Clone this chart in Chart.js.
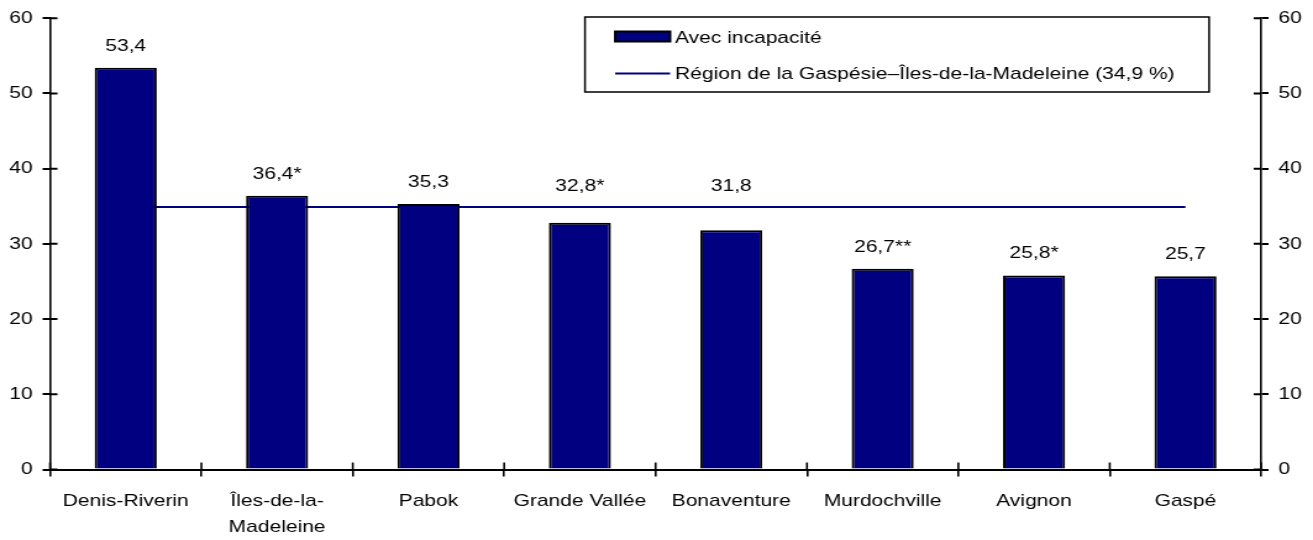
<!DOCTYPE html>
<html>
<head>
<meta charset="utf-8">
<script src="https://cdn.jsdelivr.net/npm/chart.js@4"></script>
<style>
    body { margin: 0; background: #fff; }
</style>
</head>
<body>
<canvas id="chart" width="1063" height="540" style="display:block;width:1313px;height:540px"></canvas>
<script>
// Data
const categories = ['Denis-Riverin', ['Îles-de-la-', 'Madeleine'], 'Pabok', 'Grande Vallée', 'Bonaventure', 'Murdochville', 'Avignon', 'Gaspé'];
const withDisability = [53.4, 36.4, 35.3, 32.8, 31.8, 26.7, 25.8, 25.7];
const qualityMarks = ['', '*', '', '*', '', '**', '*', ''];
const regionLine = [34.9, 34.9, 34.9, 34.9, 34.9, 34.9, 34.9, 34.9];
const yTicks = [0, 10, 20, 30, 40, 50, 60];

const barLabel = 'Avec incapacité';
const lineLabel = 'Région de la Gaspésie–Îles-de-la-Madeleine (34,9 %)';

const navy = '#000080';
const fontFamily = 'Arial, "Liberation Sans", sans-serif';
const font = { family: fontFamily, size: 17 };

// Format a value the French way, with the quality marks
function formatValue(v, i) {
    return v.toFixed(1).replace('.', ',') + qualityMarks[i];
}

// Values above the bars, moved above the region line when they would cross it
const valueLabels = {
    id: 'valueLabels',
    afterDatasetsDraw(chart) {
        const ctx = chart.ctx;
        const meta = chart.getDatasetMeta(0);
        const lineMeta = chart.getDatasetMeta(1);
        ctx.save();
        ctx.font = `17px ${fontFamily}`;
        ctx.fillStyle = '#000';
        ctx.textAlign = 'center';
        ctx.textBaseline = 'alphabetic';
        meta.data.forEach((bar, i) => {
            let yPos = bar.y - 17;
            const lineY = lineMeta.data[i].y;
            if (yPos > lineY - 17 && yPos - 15 < lineY + 3) {
                yPos = lineY - 16;
            }
            ctx.fillText(formatValue(withDisability[i], i), bar.x, yPos);
        });
        ctx.restore();
    }
};

// Tick marks that cross the axes (inner half)
const crossTicks = {
    id: 'crossTicks',
    afterDraw(chart) {
        const ctx = chart.ctx;
        const x = chart.scales.x, y = chart.scales.y, y2 = chart.scales.y2;
        ctx.save();
        ctx.strokeStyle = '#000';
        ctx.lineWidth = 2;
        ctx.beginPath();
        yTicks.forEach(v => {
            const py = y.getPixelForValue(v);
            ctx.moveTo(y.right, py);
            ctx.lineTo(y.right + 6, py);
            ctx.moveTo(y2.left, py);
            ctx.lineTo(y2.left - 6, py);
        });
        ctx.stroke();
        ctx.lineWidth = 1.6;
        ctx.beginPath();
        const step = (x.right - x.left) / categories.length;
        for (let i = 0; i <= categories.length; i++) {
            const px = x.left + i * step;
            ctx.moveTo(px, x.top);
            ctx.lineTo(px, x.top - 7);
        }
        ctx.stroke();
        ctx.restore();
    }
};

// Boxed legend in the top right
const boxLegend = {
    id: 'boxLegend',
    afterDraw(chart) {
        const ctx = chart.ctx;
        ctx.save();
        ctx.fillStyle = '#fff';
        ctx.fillRect(473.6, 17, 505.3, 75);
        ctx.strokeStyle = '#000';
        ctx.lineWidth = 1.5;
        ctx.strokeRect(473.6, 17, 505.3, 75);

        ctx.fillStyle = navy;
        ctx.fillRect(498, 31.5, 44.5, 10);
        ctx.lineWidth = 2;
        ctx.strokeRect(498, 31.5, 44.5, 10);

        ctx.strokeStyle = navy;
        ctx.lineWidth = 2;
        ctx.beginPath();
        ctx.moveTo(498, 73.5);
        ctx.lineTo(542.5, 73.5);
        ctx.stroke();

        ctx.fillStyle = '#000';
        ctx.font = `17px ${fontFamily}`;
        ctx.textAlign = 'left';
        ctx.textBaseline = 'alphabetic';
        ctx.fillText(barLabel, 546.5, 42.5);
        ctx.fillText(lineLabel, 546.5, 78.5);
        ctx.restore();
    }
};

const yAxis = (position, width) => ({
    type: 'linear',
    position: position,
    min: 0,
    max: 60,
    afterBuildTicks: s => { s.ticks = yTicks.map(v => ({ value: v })); },
    afterFit: s => { s.width = width; },
    ticks: { color: '#000', font: font, padding: 8 },
    grid: { drawOnChartArea: false, drawTicks: true, tickLength: 6, color: '#000', lineWidth: 2 },
    border: { display: true, color: '#000', width: 1.6 }
});

new Chart(document.getElementById('chart'), {
    type: 'bar',
    data: {
        labels: categories,
        datasets: [
            {
                label: barLabel,
                data: withDisability,
                backgroundColor: navy,
                borderColor: '#000',
                borderWidth: 2,
                categoryPercentage: 1,
                barPercentage: 0.41,
                yAxisID: 'y',
                order: 0
            },
            {
                type: 'line',
                label: lineLabel,
                data: regionLine,
                borderColor: navy,
                borderWidth: 2,
                pointRadius: 0,
                fill: false,
                yAxisID: 'y',
                order: 1
            }
        ]
    },
    options: {
        responsive: false,
        devicePixelRatio: 1,
        animation: false,
        layout: { padding: { top: 18, right: 0, bottom: 0, left: 0 } },
        plugins: {
            legend: { display: false },
            tooltip: { enabled: false }
        },
        scales: {
            x: {
                offset: true,
                afterFit: s => { s.height = 70.5; },
                ticks: {
                    color: '#000',
                    font: { family: fontFamily, size: 17, lineHeight: 1.58 },
                    autoSkip: false,
                    maxRotation: 0,
                    padding: 11
                },
                grid: { offset: true, drawOnChartArea: false, drawTicks: true, tickLength: 7, color: '#000', lineWidth: 1.6 },
                border: { display: true, color: '#000', width: 2 }
            },
            y: yAxis('left', 40.5),
            y2: yAxis('right', 42)
        }
    },
    plugins: [valueLabels, crossTicks, boxLegend]
});
</script>
</body>
</html>
